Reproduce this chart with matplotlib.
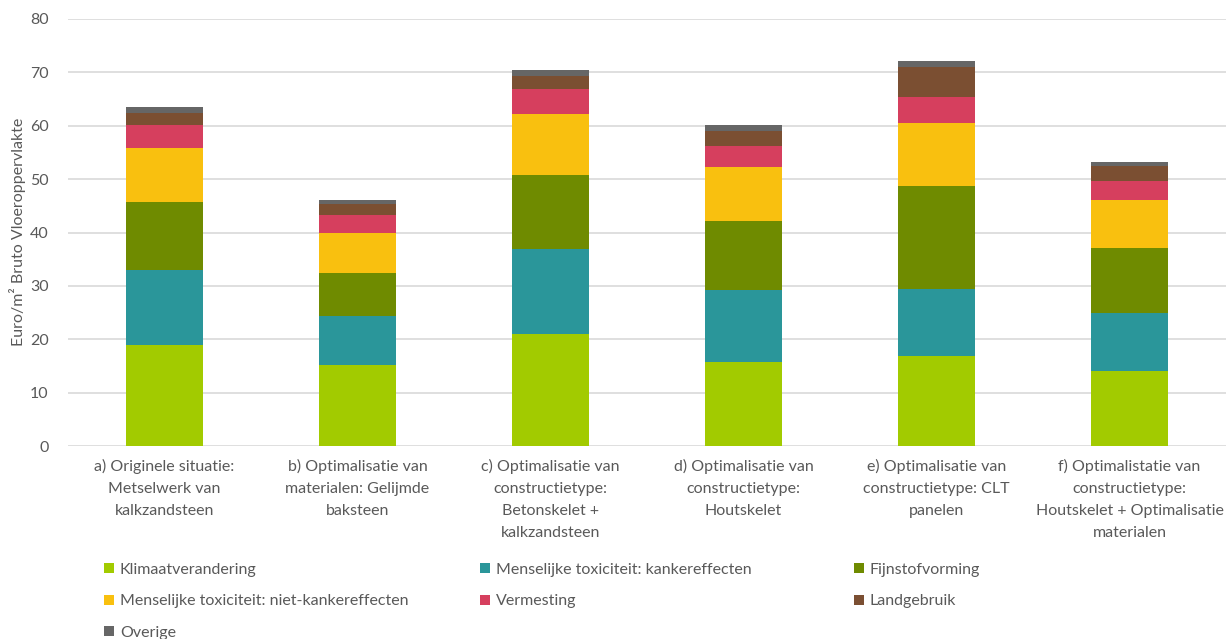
import matplotlib
matplotlib.use("Agg")
import matplotlib.pyplot as plt
import numpy as np

plt.rcParams['font.family'] = ['Lato', 'DejaVu Sans']

categories = [
    "a) Originele situatie:\nMetselwerk van\nkalkzandsteen",
    "b) Optimalisatie van\nmaterialen: Gelijmde\nbaksteen",
    "c) Optimalisatie van\nconstructietype:\nBetonskelet +\nkalkzandsteen",
    "d) Optimalisatie van\nconstructietype:\nHoutskelet",
    "e) Optimalisatie van\nconstructietype: CLT\npanelen",
    "f) Optimalistatie van\nconstructietype:\nHoutskelet + Optimalisatie\nmaterialen",
]

klimaat = [19.0, 15.1, 21.0, 15.7, 16.9, 14.0]
tox_kanker = [14.0, 9.3, 16.0, 13.5, 12.6, 11.0]
fijnstof = [12.8, 8.0, 13.8, 12.9, 19.2, 12.1]
tox_niet_kanker = [10.1, 7.6, 11.4, 10.1, 11.9, 9.0]
vermesting = [4.2, 3.3, 4.6, 4.0, 4.7, 3.5]
landgebruik = [2.2, 2.1, 2.5, 2.8, 5.7, 2.8]
overige = [1.3, 0.7, 1.1, 1.1, 1.2, 0.9]

series_names = ["Klimaatverandering", "Menselijke toxiciteit: kankereffecten", "Fijnstofvorming",
                "Menselijke toxiciteit: niet-kankereffecten", "Vermesting", "Landgebruik", "Overige"]
series_values = [klimaat, tox_kanker, fijnstof, tox_niet_kanker, vermesting, landgebruik, overige]
colors = ["#A2CB00", "#2A969A", "#6F8B00", "#F9C00F", "#D63F5E", "#7B4F32", "#666666"]

fs = 11.5
fig = plt.figure(figsize=(12.26, 6.39), dpi=100)
ax = fig.add_axes([68/1226, 1-446/639, (1226-68)/1226, (446-19)/639])

x = np.arange(len(categories))
bottom = np.zeros(len(categories))
handles = []
for name, vals, c in zip(series_names, series_values, colors):
    b = ax.bar(x, vals, width=0.4, bottom=bottom, color=c, label=name, zorder=3)
    handles.append(b)
    bottom += np.array(vals)

ax.set_ylim(0, 80)
ax.set_xlim(-0.5, len(categories) - 0.5)
ax.set_yticks(np.arange(0, 81, 10))
ax.yaxis.grid(True, color="#D9D9D9", linewidth=1.2, zorder=0)
ax.set_axisbelow(True)
for s in ax.spines.values():
    s.set_visible(False)
ax.tick_params(axis='both', length=0, colors="#595959", labelsize=fs)
ax.tick_params(axis='y', pad=14)
ax.tick_params(axis='x', pad=9)
ax.set_xticks(x)
ax.set_xticklabels(categories, linespacing=1.75, color="#595959")
fig.text(18/1226, 1 - 232/639, "Euro/m² Bruto Vloeroppervlakte", fontsize=fs, color="#595959",
         rotation=90, ha='center', va='center', family=['DejaVu Sans'] if False else ['Lato', 'DejaVu Sans'])

legend_cols = [[0, 3, 6], [1, 4], [2, 5]]
legend_x = [104/1226, 480/1226, 854/1226]
for xs, idxs in zip(legend_x, legend_cols):
    leg = fig.legend([handles[i] for i in idxs], [series_names[i] for i in idxs],
                     loc='upper left', bbox_to_anchor=(xs, 1 - 563/639), frameon=False,
                     fontsize=fs, handlelength=0.6, handleheight=0.6, handletextpad=0.4,
                     labelspacing=1.08, borderaxespad=0, borderpad=0)
    for t in leg.get_texts():
        t.set_color("#595959")

fig.savefig("out.png", dpi=100)
